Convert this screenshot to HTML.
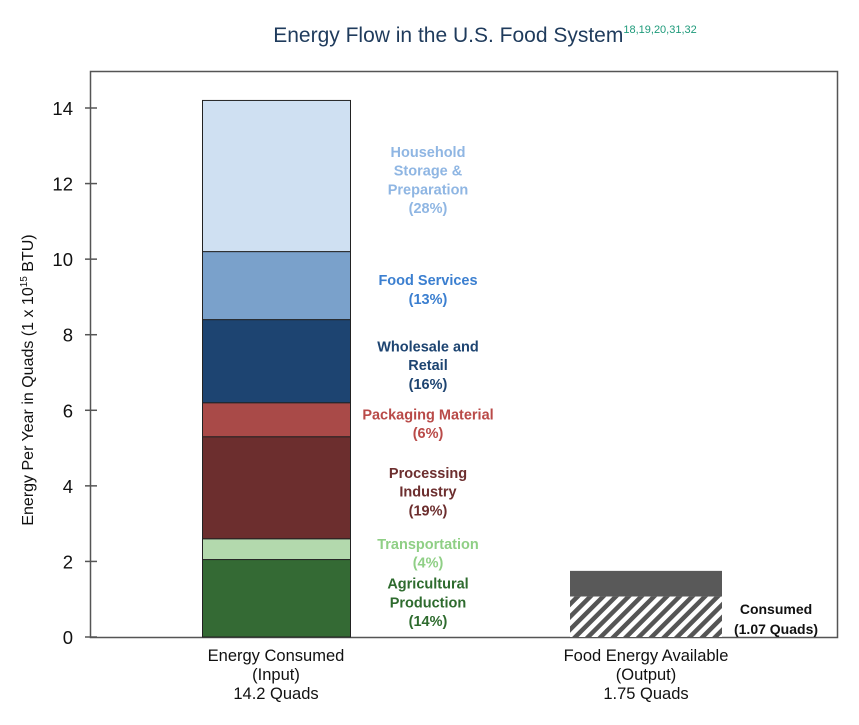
<!DOCTYPE html>
<html><head><meta charset="utf-8"><style>
body{margin:0;background:#fff;width:859px;height:720px;overflow:hidden;font-family:"Liberation Sans",sans-serif}
</style></head><body>
<svg id="c" width="859" height="720" xmlns="http://www.w3.org/2000/svg">
<defs><pattern id="hatch" width="9" height="9" patternUnits="userSpaceOnUse" patternTransform="rotate(45)"><rect width="9" height="9" fill="#fff"/><rect width="4.5" height="9" fill="#555"/></pattern></defs>
<text x="485" y="42" text-anchor="middle" font-size="21" fill="#1f3b5c">Energy Flow in the U.S. Food System<tspan font-size="11" dy="-9" fill="#1e9a7a">18,19,20,31,32</tspan></text>
<rect x="90.5" y="71.5" width="747" height="566" fill="none" stroke="#555" stroke-width="1.5"/>
<text transform="translate(33,380) rotate(-90)" text-anchor="middle" font-size="16" fill="#111">Energy Per Year in Quads (1 x 10<tspan font-size="10" dy="-6">15</tspan><tspan dy="6"> BTU)</tspan></text>
<g id="g"></g>
</svg>
<script>
const ticks=[0,2,4,6,8,10,12,14];
const segNames=["Agricultural Production","Transportation","Processing Industry","Packaging Material","Wholesale and Retail","Food Services","Household Storage & Preparation"];
const segValues=[2.05,0.55,2.7,0.9,2.2,1.8,4.0];
const segColors=["#346a34","#b3d9ad","#6c2e2e","#a94a48","#1d4471","#7aa1cb","#cfe0f2"];
const segLabels=[["Agricultural","Production","(14%)"],["Transportation","(4%)"],["Processing","Industry","(19%)"],["Packaging Material","(6%)"],["Wholesale and","Retail","(16%)"],["Food Services","(13%)"],["Household","Storage &","Preparation","(28%)"]];
const labelColors=["#2e6b2e","#8fcf85","#6c2e2e","#b94a48","#1d4471","#3b7fd0","#8fb6e3"];
const outputTotal=1.75, outputConsumed=1.07;
const categories=[["Energy Consumed","(Input)","14.2 Quads"],["Food Energy Available","(Output)","1.75 Quads"]];
const y=v=>637-v*(529/14);
const g=document.getElementById('g');
function el(t,a,txt){const e=document.createElementNS('http://www.w3.org/2000/svg',t);for(const k in a)e.setAttribute(k,a[k]);if(txt!=null)e.textContent=txt;g.appendChild(e);return e;}
ticks.forEach(t=>{
 const l=el('line',{x1:85,x2:97,y1:y(t),y2:y(t),stroke:'#555','stroke-width':1.5});
 
 
 const tx=el('text',{x:73,y:y(t)+7,'text-anchor':'end','font-size':18.5,fill:'#111'},t);
 
 
});
let base=0;
segValues.forEach((v,i)=>{
 const r=el('rect',{x:202.5,width:148,y:y(base+v),height:y(base)-y(base+v),fill:segColors[i],stroke:'#222','stroke-width':1});
 
 
 const mid=y(base+v/2), lines=segLabels[i], lh=18.7;
 const t0=mid-(lines.length-1)*lh/2;
 lines.forEach((s,j)=>{
  const t=el('text',{x:428,y:t0+j*lh+9,'text-anchor':'middle','font-size':14.5,'font-weight':'bold',fill:labelColors[i]},s);
  
  
 });
 base+=v;
});
const o1=el('rect',{x:570,width:152,y:y(outputTotal),height:y(outputConsumed)-y(outputTotal),fill:'#595959'});


const o2=el('rect',{x:570,width:152,y:y(outputConsumed),height:y(0)-y(outputConsumed),fill:'url(#hatch)'});


[["Consumed",614],["(1.07 Quads)",634]].forEach(([s,yy])=>{
 const t=el('text',{x:776,y:yy,'text-anchor':'middle','font-size':14,'font-weight':'bold',fill:'#111'},s);
 
 
});
[276,646].forEach((cx,i)=>categories[i].forEach((s,j)=>{
 const t=el('text',{x:cx,y:661+j*19,'text-anchor':'middle','font-size':16.5,fill:'#111'},s);
 
 
}));
</script>
</body></html>
